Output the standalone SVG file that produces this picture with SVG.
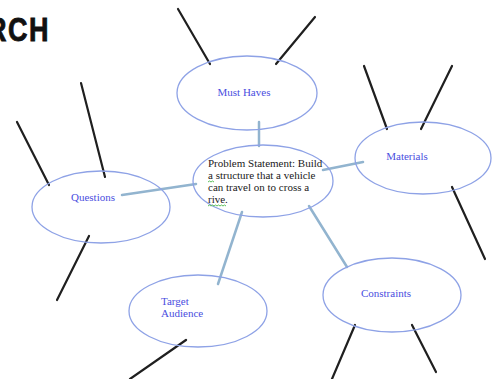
<svg xmlns="http://www.w3.org/2000/svg" width="493" height="379" viewBox="0 0 493 379">
<style>
.node ellipse{fill:none;stroke:#8ea2e6;stroke-width:1.3}
.lbl{font-family:"Liberation Serif","Times New Roman",serif;font-size:11px;fill:#4a4ee0}
.stmt{font-family:"Liberation Serif","Times New Roman",serif;font-size:11px;fill:#1a1a1a}
.conn line{stroke:#92b4cf;stroke-width:2.5;stroke-linecap:round}
.leg line{stroke:#1f1f1f;stroke-width:2.2;stroke-linecap:round}
.sq{fill:none;stroke:#5cc05c;stroke-width:1}
</style>
<rect width="493" height="379" fill="#fff"/>
<text transform="translate(-13,41) scale(1,1.2)" x="0" y="0" font-family="'Liberation Sans',Arial,sans-serif" font-weight="bold" font-size="27" letter-spacing="1.5" fill="#111" stroke="#111" stroke-width="0.7">RCH</text>
<g class="leg" id="legs">
<line x1="178" y1="9" x2="210" y2="64"/>
<line x1="315" y1="17" x2="276" y2="64"/>
<line x1="17" y1="122" x2="49" y2="185"/>
<line x1="81" y1="83" x2="105" y2="177"/>
<line x1="89" y1="236" x2="57" y2="300"/>
<line x1="364" y1="66" x2="387" y2="129"/>
<line x1="452" y1="66" x2="421" y2="129"/>
<line x1="452" y1="187" x2="485" y2="259"/>
<line x1="186" y1="340" x2="130" y2="379"/>
<line x1="355" y1="325" x2="332" y2="379"/>
<line x1="412" y1="325" x2="436" y2="372"/>
</g>
<g class="conn" id="connectors">
<line x1="259" y1="122" x2="259" y2="146"/>
<line x1="122" y1="195" x2="196" y2="184"/>
<line x1="323" y1="170" x2="363" y2="162"/>
<line x1="242" y1="212" x2="218" y2="284"/>
<line x1="309" y1="206" x2="347" y2="267"/>
</g>
<g class="node" id="must-haves">
<ellipse cx="247" cy="93" rx="70" ry="37"/>
<text class="lbl" x="244" y="96" text-anchor="middle">Must Haves</text>
</g>
<g class="node" id="problem">
<ellipse cx="263" cy="181" rx="70" ry="36"/>
<text class="stmt" x="208" y="167">Problem Statement: Build</text>
<text class="stmt" x="208" y="179">a structure that a vehicle</text>
<text class="stmt" x="208" y="191">can travel on to cross a</text>
<text class="stmt" x="208" y="203">rive.</text>
<path class="sq" d="M208,182 l1.5,-1 l1.5,1 l1.5,-1 l1.5,1"/>
<path class="sq" d="M208,206 l1.5,-1 l1.5,1 l1.5,-1 l1.5,1 l1.5,-1 l1.5,1 l1.5,-1 l1.5,1 l1.5,-1 l1.5,1 l1.5,-1 l1.5,1"/>
</g>
<g class="node" id="questions">
<ellipse cx="101" cy="207" rx="69" ry="36"/>
<text class="lbl" x="93" y="201" text-anchor="middle">Questions</text>
</g>
<g class="node" id="materials">
<ellipse cx="423" cy="158" rx="68" ry="36"/>
<text class="lbl" x="407" y="160" text-anchor="middle">Materials</text>
</g>
<g class="node" id="target-audience">
<ellipse cx="198" cy="311" rx="69" ry="36"/>
<text class="lbl" x="161" y="305">Target</text>
<text class="lbl" x="161" y="317">Audience</text>
</g>
<g class="node" id="constraints">
<ellipse cx="392" cy="295" rx="69" ry="37"/>
<text class="lbl" x="386" y="297" text-anchor="middle">Constraints</text>
</g>
</svg>
